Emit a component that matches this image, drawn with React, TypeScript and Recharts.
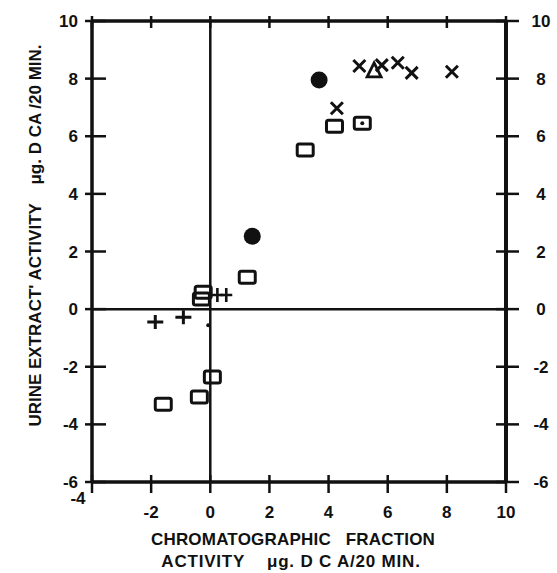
import React from 'react';
import {
  ScatterChart, Scatter, XAxis, YAxis, ReferenceLine
} from 'recharts';

// values (x = chromatographic fraction, y = urine extract)
const xTicks = [-4, -2, 0, 2, 4, 6, 8, 10];
const yTicks = [-6, -4, -2, 0, 2, 4, 6, 8, 10];

const squares = [
  { x: 3.21, y: 5.52 }, { x: 4.2, y: 6.35 }, { x: 5.14, y: 6.45 },
  { x: 1.25, y: 1.11 }, { x: -0.24, y: 0.59 }, { x: -0.3, y: 0.35 },
  { x: 0.07, y: -2.36 }, { x: -0.37, y: -3.05 }, { x: -1.59, y: -3.3 },
];
const circles = [{ x: 3.68, y: 7.95 }, { x: 1.42, y: 2.53 }];
const crosses = [
  { x: 4.28, y: 6.97 }, { x: 5.04, y: 8.44 }, { x: 5.8, y: 8.47 },
  { x: 6.34, y: 8.55 }, { x: 6.81, y: 8.2 }, { x: 8.17, y: 8.24 },
];
const triangles = [{ x: 5.54, y: 8.27 }];
const pluses = [{ x: -1.86, y: -0.45 }, { x: -0.91, y: -0.28 }];
const narrowPluses = [{ x: 0.24, y: 0.49 }, { x: 0.54, y: 0.49 }];
const dots = [{ x: -0.07, y: -0.56 }, { x: 5.14, y: 6.45 }];

// one table for a single scatter series, tagged with the marker kind
const points = [
  ...squares.map((p) => ({ ...p, kind: 'square' })),
  ...circles.map((p) => ({ ...p, kind: 'circle' })),
  ...crosses.map((p) => ({ ...p, kind: 'cross' })),
  ...triangles.map((p) => ({ ...p, kind: 'triangle' })),
  ...pluses.map((p) => ({ ...p, kind: 'plus' })),
  ...narrowPluses.map((p) => ({ ...p, kind: 'narrowPlus' })),
  ...dots.map((p) => ({ ...p, kind: 'dot' })),
];

const FONT = '"Liberation Sans", Arial, sans-serif';
const INK = '#111';

const Marker = (props: any) => {
  const { cx, cy, payload } = props;
  const kind = payload?.kind;
  if (kind === 'square')
    return <rect x={cx - 8} y={cy - 6} width={16} height={12} rx={2} fill="none" stroke={INK} strokeWidth={3} />;
  if (kind === 'circle') return <circle cx={cx} cy={cy} r={8.5} fill={INK} />;
  if (kind === 'cross')
    return <path d={`M${cx - 6},${cy - 6}L${cx + 6},${cy + 6}M${cx + 6},${cy - 6}L${cx - 6},${cy + 6}`} stroke={INK} strokeWidth={3} fill="none" />;
  if (kind === 'triangle')
    return <path d={`M${cx},${cy - 8}L${cx + 7},${cy + 6}L${cx - 7},${cy + 6}Z`} fill="none" stroke={INK} strokeWidth={2.8} />;
  if (kind === 'plus')
    return <path d={`M${cx - 8},${cy}L${cx + 8},${cy}M${cx},${cy - 7}L${cx},${cy + 7}`} stroke={INK} strokeWidth={3} fill="none" />;
  if (kind === 'narrowPlus')
    return <path d={`M${cx - 6},${cy}L${cx + 6},${cy}M${cx},${cy - 7}L${cx},${cy + 7}`} stroke={INK} strokeWidth={2.6} fill="none" />;
  if (kind === 'dot') return <circle cx={cx} cy={cy} r={2} fill={INK} />;
  return <g />;
};
const NoMark = () => <g />;

const labelStyle = { fontFamily: FONT, fontWeight: 700, fontSize: 17, fill: INK };
const axisLine = { stroke: INK, strokeWidth: 3.5 };

// tick labels only (tickSize 0, so x/y sit on the axis line)
const bottomLabel = (props: any) => {
  const { x, y, payload } = props;
  const v = payload.value;
  const lx = v === -4 ? x - 14 : x;
  const ly = v === -4 ? y + 16 : y + 30;
  return <text key={`b${v}`} x={lx} y={ly} dy="0.36em" textAnchor="middle" style={labelStyle}>{v}</text>;
};
const leftLabel = (props: any) => {
  const { x, y, payload } = props;
  return <text key={`l${payload.value}`} x={x - 14} y={y} dy="0.36em" textAnchor="end" style={labelStyle}>{payload.value}</text>;
};
const rightLabel = (props: any) => {
  const { x, y, payload } = props;
  return <text key={`r${payload.value}`} x={x + 35} y={y} dy="0.36em" textAnchor="middle" style={labelStyle}>{payload.value}</text>;
};

// crossing tick marks, drawn at the ends of each reference line
const VerticalTicks = (v: number) => (props: any) => {
  const { x1, y1, y2 } = props;
  const bottom = Math.max(y1, y2);
  const top = Math.min(y1, y2);
  return (
    <g>
      <path d={`M${x1},${bottom - 7}L${x1},${bottom + 11}`} stroke={INK} strokeWidth={2.5} fill="none" />
      <path d={`M${x1},${top - 5}L${x1},${top + 7}`} stroke={INK} strokeWidth={2.5} fill="none" />
      {v === 0 && <path d={`M${x1},${top}L${x1},${bottom}`} stroke={INK} strokeWidth={2.5} fill="none" />}
    </g>
  );
};
const HorizontalTicks = (v: number) => (props: any) => {
  const { x1, x2, y1 } = props;
  const left = Math.min(x1, x2);
  const right = Math.max(x1, x2);
  return (
    <g>
      <line x1={left - 7} x2={left + 14} y1={y1} y2={y1} stroke={INK} strokeWidth={2.5} />
      <line x1={right - 10} x2={right + 13} y1={y1} y2={y1} stroke={INK} strokeWidth={2.5} />
      {v === 0 && <line x1={left} x2={right} y1={y1} y2={y1} stroke={INK} strokeWidth={2.5} />}
    </g>
  );
};

const titleCss: React.CSSProperties = {
  position: 'absolute', fontFamily: FONT, fontWeight: 700, fontSize: 17, lineHeight: '17px',
  color: INK, whiteSpace: 'pre', textAlign: 'center', margin: 0,
};

const App = () => {
  return (
    <div style={{ position: 'absolute', left: 0, top: 0, width: 557, height: 573, background: '#fff' }}>
      <ScatterChart width={557} height={573} margin={{ top: 1, right: 0, bottom: 0, left: 0 }}>
        <XAxis
          type="number" dataKey="x" domain={[-4, 10]} ticks={xTicks} interval={0}
          height={91} tickSize={0} tickMargin={0} tickLine={false}
          axisLine={axisLine} tick={bottomLabel}
        />
        <XAxis
          xAxisId="top" orientation="top" type="number" dataKey="x" domain={[-4, 10]} ticks={xTicks} interval={0}
          height={20} tickSize={0} tickLine={false} axisLine={axisLine} tick={false}
        />
        <YAxis
          type="number" dataKey="y" domain={[-6, 10]} ticks={yTicks} interval={0}
          width={92} tickSize={0} tickMargin={0} tickLine={false}
          axisLine={axisLine} tick={leftLabel}
        />
        <YAxis
          yAxisId="right" orientation="right" type="number" dataKey="y" domain={[-6, 10]} ticks={yTicks} interval={0}
          width={51} tickSize={0} tickMargin={0} tickLine={false}
          axisLine={{ stroke: INK, strokeWidth: 4 }} tick={rightLabel}
        />
        {xTicks.map((v) => (
          <ReferenceLine key={`vx${v}`} x={v} ifOverflow="visible" shape={VerticalTicks(v)} />
        ))}
        {yTicks.map((v) => (
          <ReferenceLine key={`hy${v}`} y={v} ifOverflow="visible" shape={HorizontalTicks(v)} />
        ))}
        <Scatter data={squares} xAxisId="top" yAxisId="right" shape={<NoMark />} isAnimationActive={false} />
        <Scatter data={points} shape={Marker} isAnimationActive={false} />
      </ScatterChart>
      <div style={{ ...titleCss, left: 93, top: 531, width: 400, letterSpacing: 0.2 }}>
        {'CHROMATOGRAPHIC   FRACTION'}
      </div>
      <div style={{ ...titleCss, left: 91, top: 553, width: 400, letterSpacing: 0.8 }}>
        {'ACTIVITY    μg. D C A/20 MIN.'}
      </div>
      <div style={{ ...titleCss, left: -170, top: 226.5, width: 410, height: 17, transform: 'rotate(-90deg)', transformOrigin: '50% 50%' }}>
        {"URINE EXTRACT' ACTIVITY    μg. D CA /20 MIN."}
      </div>
    </div>
  );
};

export default App;
